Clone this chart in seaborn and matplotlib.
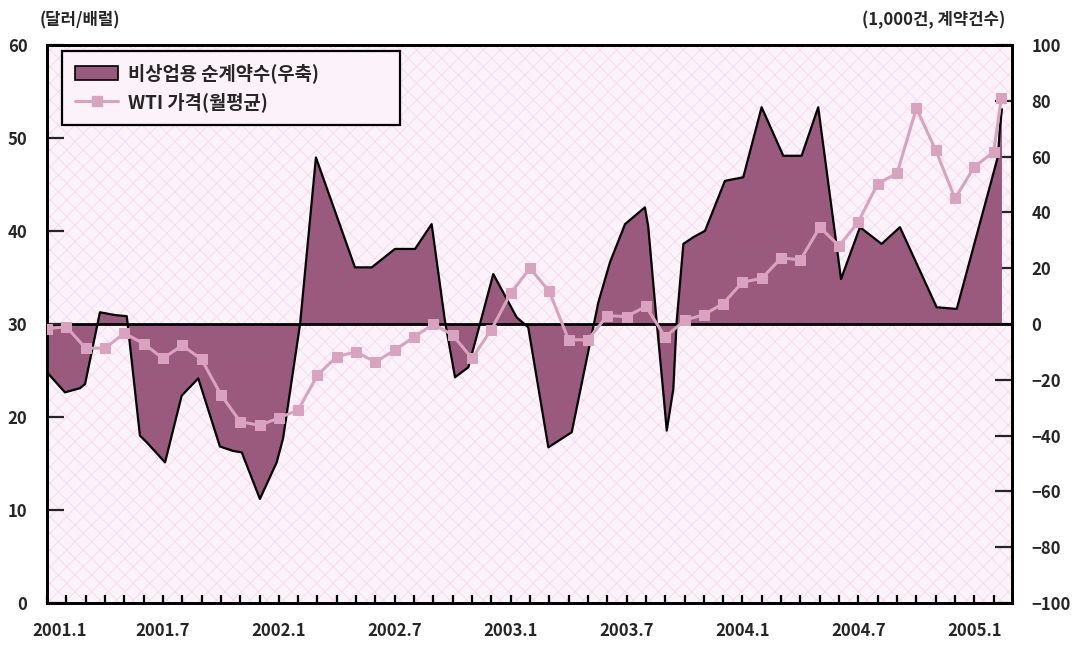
import numpy as np
import matplotlib
matplotlib.use("Agg")
import matplotlib.pyplot as plt
import matplotlib.transforms as mtransforms
import seaborn as sns
from matplotlib.patches import Patch, Rectangle
from matplotlib.lines import Line2D

# months since 2001.1
wti_month = list(range(50)) + [49.4]
wti_price = [29.5, 29.7, 27.4, 27.4, 29.0, 27.9, 26.3, 27.7, 26.2, 22.4,
             19.5, 19.1, 19.9, 20.75, 24.5, 26.5, 27.0, 25.9, 27.2, 28.6,
             30.0, 28.8, 26.3, 29.4, 33.3, 36.0, 33.5, 28.3, 28.3, 30.9,
             30.8, 31.9, 28.6, 30.4, 31.0, 32.2, 34.5, 34.9, 37.1, 36.9,
             40.4, 38.4, 41.0, 45.1, 46.2, 53.2, 48.7, 43.5, 46.9, 48.5,
             54.3]

# non-commercial net positions (weekly)
net_month = [0.0, 0.93, 1.71, 1.97, 2.74, 3.52, 4.13, 4.81, 5.16, 6.11,
             6.97, 7.83, 8.95, 9.63, 10.08, 11.02, 11.89, 12.22, 13.10, 13.92,
             15.94, 16.81, 18.01, 19.05, 19.91, 20.60, 21.12, 21.81, 22.41, 23.10,
             24.31, 24.91, 25.95, 27.16, 28.54, 29.14, 29.92, 30.95, 31.12, 31.56,
             31.90, 32.08, 32.42, 32.59, 32.94, 33.45, 34.06, 35.09, 36.04, 36.99,
             38.11, 39.06, 39.92, 41.10, 42.08, 43.20, 44.15, 46.05, 47.09, 49.22,
             49.33, 49.43]
net_pos = [-17.3, -24.5, -23.0, -21.5, 4.2, 3.2, 2.8, -40.0, -42.4, -49.6,
           -25.7, -19.5, -43.9, -45.5, -46.0, -62.7, -49.6, -41.0, 0.0, 59.7,
           20.3, 20.3, 26.9, 26.9, 35.8, 1.0, -19.1, -15.5, 0.0, 17.9,
           2.4, -1.2, -44.2, -38.8, 7.8, 22.1, 35.8, 41.8, 35.0, 0.6,
           -24.5, -38.2, -23.3, 0.6, 28.7, 31.1, 33.4, 51.3, 52.6, 77.7,
           60.3, 60.3, 77.7, 16.1, 34.7, 28.7, 34.7, 6.0, 5.4, 60.0,
           71.0, 77.0]

tick_labels = ["2001.1", "2001.7", "2002.1", "2002.7", "2003.1",
               "2003.7", "2004.1", "2004.7", "2005.1"]

area_color = "#985b7d"
wti_color = "#d9a3bf"
bg_color = "#fcf3fa"

sns.set_style("ticks")
plt.rcParams["font.family"] = ["Noto Sans CJK KR", "DejaVu Sans"]
plt.rcParams["axes.unicode_minus"] = True
plt.rcParams["hatch.linewidth"] = 0.6

fig = plt.figure(figsize=(10.72, 6.51), dpi=100)
ax2 = fig.add_axes([47 / 1072, 48 / 651, 965 / 1072, 558 / 651])
ax = ax2.twinx()
ax.set_zorder(ax2.get_zorder() + 1)
ax.patch.set_visible(False)

# background texture
ax2.set_facecolor(bg_color)
ax2.add_patch(Rectangle((0, 0), 1, 1, transform=ax2.transAxes, facecolor="none",
                        edgecolor="#f5d8f0", hatch="xx", linewidth=0, zorder=0))

# net position area (right axis)
ax2.fill_between(net_month, 0, net_pos, facecolor=area_color, edgecolor="none", zorder=1)
ax2.fill_between(net_month, 0, net_pos, facecolor="none", edgecolor="#ad5080",
                 hatch="..", linewidth=0, zorder=1)
sns.lineplot(x=net_month, y=net_pos, ax=ax2, color="black", linewidth=1.6, zorder=2)
ax2.axhline(0, color="black", linewidth=2, zorder=3)
ax2.set_ylim(-100, 100)
ax2.set_yticks(range(-100, 101, 20))

# WTI price (left axis)
sns.lineplot(x=wti_month, y=wti_price, ax=ax, color=wti_color, linewidth=2.2,
             marker="s", markersize=7, markeredgecolor=wti_color, zorder=5)
ax.set_ylim(0, 60)
ax.set_yticks(range(0, 61, 10))
ax.set_xlim(0, 49.95)

ax.yaxis.tick_left()
ax2.yaxis.tick_right()

# shared x axis: labelled majors every 6 months, minor tick each month
ax2.set_xticks(range(0, 49, 6))
ax2.set_xticklabels(tick_labels, fontsize=12, fontweight="bold")
ax2.set_xticks(range(1, 50), minor=True)
ax2.tick_params(axis="x", which="both", direction="in", length=6, width=1.6,
                color="black", pad=14)
# first label sits a bit right of the corner
first = ax2.get_xticklabels()[0]
first.set_transform(first.get_transform() +
                    mtransforms.ScaledTranslation(0.13, 0, fig.dpi_scale_trans))

ax.tick_params(axis="y", direction="in", length=12, width=1.6, pad=14,
               labelsize=12)
ax2.tick_params(axis="y", direction="in", length=12, width=1.6, pad=14,
                labelsize=12)
for lab in ax.get_yticklabels() + ax2.get_yticklabels():
    lab.set_fontweight("bold")

for a in (ax, ax2):
    a.set_xlabel("")
    a.set_ylabel("")
    for s in a.spines.values():
        s.set_linewidth(2)
        s.set_color("black")

handles = [Patch(facecolor=area_color, edgecolor="black", linewidth=1.2),
           Line2D([0], [0], color=wti_color, linewidth=2.2, marker="s",
                  markersize=7)]
leg = ax.legend(handles, ["비상업용 순계약수(우축)", "WTI 가격(월평균)"],
                loc="upper left", bbox_to_anchor=(0.0155, 0.865, 0.35, 0.125),
                mode="expand", borderaxespad=0,
                frameon=True, fancybox=False, edgecolor="black",
                facecolor=bg_color, framealpha=1,
                prop={"size": 13.5, "weight": "bold"},
                handlelength=2.3, handleheight=0.8, labelspacing=0.45,
                borderpad=0.7, handletextpad=0.5)
leg.get_frame().set_linewidth(1.6)

fig.text(40 / 1072, 1 - 20 / 651, "(달러/배럴)", fontsize=12, fontweight="bold",
         va="center", ha="left")
fig.text(1005 / 1072, 1 - 20 / 651, "(1,000건, 계약건수)", fontsize=12,
         fontweight="bold", va="center", ha="right")

fig.savefig("out.png", dpi=100)
